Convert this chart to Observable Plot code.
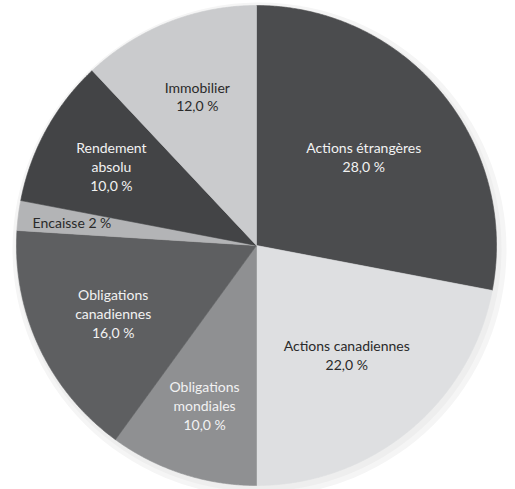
<!DOCTYPE html>
<html>
<head>
<meta charset="utf-8">
<script src="https://cdn.jsdelivr.net/npm/d3@7"></script>
<script src="https://cdn.jsdelivr.net/npm/@observablehq/plot@0.6"></script>
<style>
  html, body { margin: 0; padding: 0; background: #fff; }
  #chart { width: 515px; height: 489px; }
</style>
</head>
<body>
<div id="chart"></div>
<script>
// Data
const names = ["Actions étrangères", "Actions canadiennes", "Obligations\nmondiales", "Obligations\ncanadiennes", "Encaisse", "Rendement\nabsolu", "Immobilier"];
const values = [28, 22, 10, 16, 2, 10, 12];
const valueLabels = ["28,0 %", "22,0 %", "10,0 %", "16,0 %", "2 %", "10,0 %", "12,0 %"];
const labelSep = ["\n", "\n", "\n", "\n", " ", "\n", "\n"];
// Styles
const colors = ["#4b4c4e", "#dedfe1", "#8f9092", "#5e5f61", "#b3b4b6", "#434446", "#cacbcd"];
const textColors = ["#f2f2f2", "#2a2a2a", "#f2f2f2", "#f2f2f2", "#2a2a2a", "#f2f2f2", "#2a2a2a"];
const labelRadius = [0.58, 0.59, 0.70, 0.66, 0.775, 0.69, 0.67];

const slices = names.map((name, i) => ({name, value: values[i], i}));
const arcs = d3.pie().sort(null).value(d => d.value)(slices);

// Build polygon points for each wedge (unit circle, angle 0 at top, clockwise)
const pts = [];
for (const a of arcs) {
  const n = Math.max(2, Math.ceil((a.endAngle - a.startAngle) / 0.005));
  pts.push({name: a.data.name, x: 0, y: 0});
  for (let k = 0; k <= n; k++) {
    const t = a.startAngle + (a.endAngle - a.startAngle) * k / n;
    pts.push({name: a.data.name, x: Math.sin(t), y: Math.cos(t)});
  }
  pts.push({name: a.data.name, x: 0, y: 0});
}

const labels = arcs.map((a, i) => {
  const m = (a.startAngle + a.endAngle) / 2;
  const r = labelRadius[i];
  return {
    text: names[i] + labelSep[i] + valueLabels[i],
    x: r * Math.sin(m),
    y: r * Math.cos(m),
    color: textColors[i]
  };
});

const chart = Plot.plot({
  width: 515,
  height: 489,
  margin: 0,
  x: {domain: [-1, 1], range: [16, 496], axis: null},
  y: {domain: [-1, 1], range: [485, 5], axis: null},
  color: {domain: names, range: colors},
  style: {background: "#fff"},
  marks: [
    Plot.dot([{x: 0, y: 0}], {x: "x", y: "y", r: 247, fill: "#f5f5f5", dx: 3, dy: 4, stroke: "none"}),
    Plot.dot([{x: 0, y: 0}], {x: "x", y: "y", r: 243, fill: "#eeeeee", dx: 2, dy: 3, stroke: "none"}),
    Plot.line(pts, {x: "x", y: "y", z: "name", fill: "name", stroke: "name", strokeWidth: 0.6, curve: "linear"}),
    Plot.text(labels, {
      x: "x", y: "y", text: "text", fill: d => d.color,
      fontFamily: "Lato, 'DejaVu Sans', sans-serif", fontSize: 14, lineHeight: 1.35
    })
  ]
});
document.getElementById("chart").appendChild(chart);
</script>
</body>
</html>
